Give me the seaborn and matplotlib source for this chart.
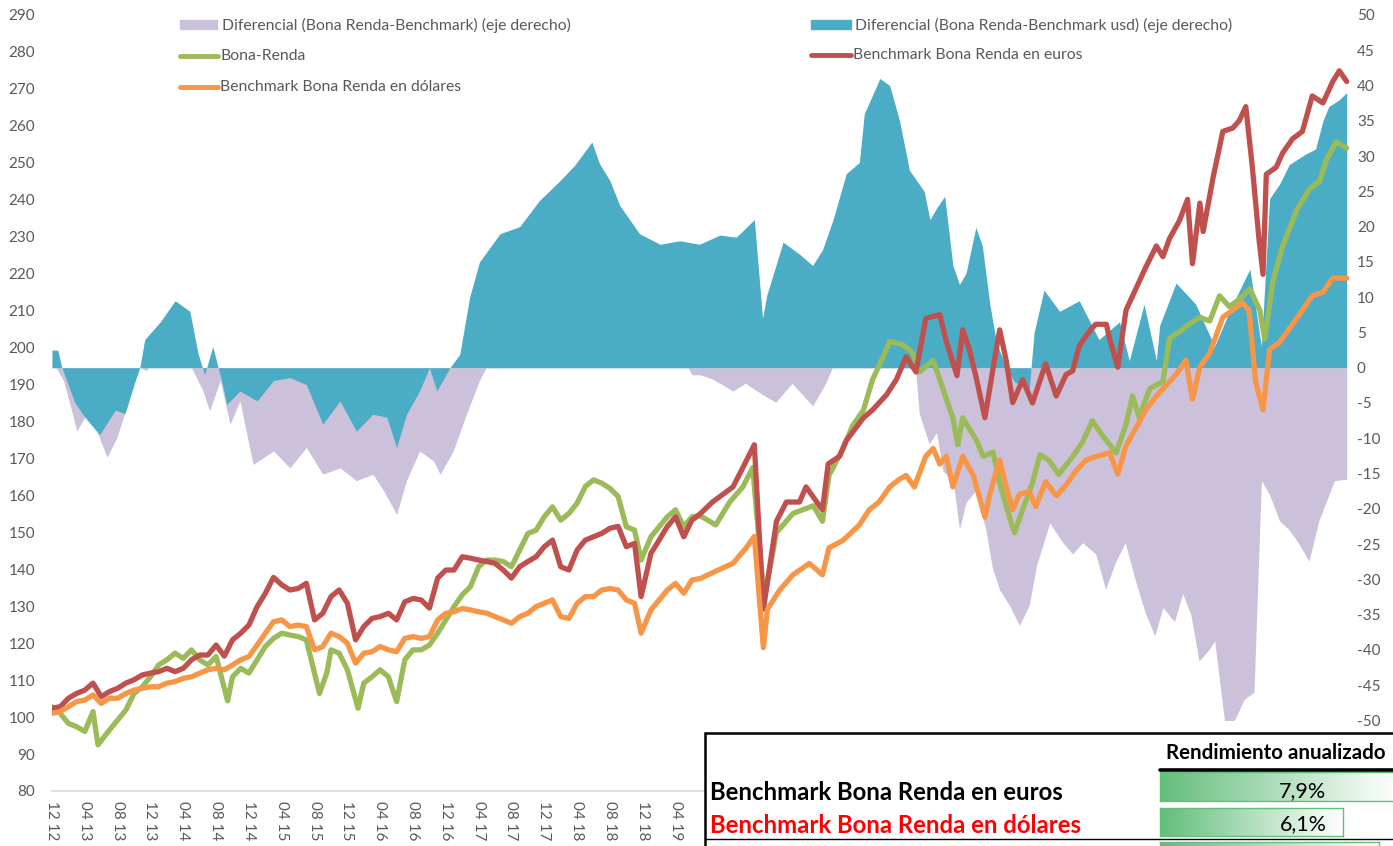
import numpy as np
import pandas as pd
import matplotlib
matplotlib.use("Agg")
import matplotlib.pyplot as plt
import seaborn as sns
from matplotlib.patches import Rectangle
from matplotlib.lines import Line2D

# ---------------- DATA (month index 0 = dic-2012) ----------------
meses_bona = [0, 1, 2, 3, 4, 5, 5.6, 7, 8, 9, 10, 11, 12, 13, 14, 15, 16, 17, 18, 19, 20, 21.4, 22, 23, 24,
              25, 26, 27, 28, 29, 30, 31, 32, 32.6, 33.5, 34, 35, 36, 37.3, 38, 39, 40, 41, 42, 43, 44, 45, 46,
              47, 48, 49, 50, 51, 52, 53, 54, 55, 56, 57, 58, 59, 60, 61, 62, 63, 64, 65, 66, 67, 68, 69, 70,
              71, 71.8, 73, 74, 75, 76, 77, 78, 79, 80.9, 82.6, 84.2, 85.4, 86.8, 88.3, 90.3, 92.8, 93.9,
              94.7, 96.4, 97.6, 98.9, 100.0, 101.3, 102.1, 103.7, 104.9, 105.7, 107.4, 108.2, 109.8, 110.4,
              111.0, 112.7, 113.5, 114.7, 115.5, 116.7, 117.3, 118.3, 119.5, 120.4, 121.5, 122.7, 124.4,
              125.6, 126.8, 128.0, 129.7, 130.9, 131.7, 132.5, 133.8, 135.4, 136.2, 137.4, 138.6, 139.9,
              141.1, 142.3, 143.5, 144.7, 146.0, 147.2, 147.8, 148.8, 150.0, 151.7, 153.3, 154.5, 155.3,
              156.5, 157.8]
bona_renda = [102.8, 101.0, 98.3, 97.4, 96.1, 101.5, 92.5, 96.5, 99.2, 101.9, 106.4, 108.2, 110.9, 114.1,
              115.5, 117.3, 115.9, 118.2, 115.5, 114.1, 116.4, 104.4, 110.9, 113.2, 111.9, 115.5, 119.1,
              121.3, 122.7, 122.2, 121.8, 120.9, 111.9, 106.4, 112.0, 118.2, 117.3, 112.8, 102.4, 109.2,
              110.9, 112.8, 110.9, 104.2, 115.5, 118.2, 118.2, 119.5, 122.7, 126.3, 129.9, 133.1, 135.3,
              140.7, 142.5, 142.5, 142.1, 140.7, 145.2, 149.7, 150.6, 154.2, 156.9, 153.3, 155.1, 157.9,
              162.4, 164.2, 163.3, 161.9, 159.7, 151.5, 150.6, 142.5, 148.8, 151.5, 154.2, 156.1, 151.5,
              154.2, 154.5, 152.0, 158.2, 162.3, 167.5, 132.0, 149.9, 155.1, 157.2, 153.0, 165.4, 172.7,
              178.9, 183.1, 191.3, 197.5, 201.7, 200.7, 198.6, 193.4, 196.5, 191.3, 181.0, 173.7, 181.0,
              174.8, 170.6, 171.7, 163.4, 154.1, 149.9, 156.1, 163.4, 171.0, 169.5, 165.7, 170.5, 174.4,
              180.2, 176.3, 171.5, 179.2, 186.9, 181.1, 188.9, 190.8, 202.4, 204.3, 206.3, 208.2, 207.2,
              214.0, 211.1, 213.0, 215.9, 210.1, 202.4, 217.9, 227.5, 237.2, 243.0, 245.0, 250.7, 255.6,
              254.0]

meses_eur = [0, 1, 2, 3, 4, 5, 6, 7, 8, 9, 10, 11, 12, 13, 14, 15, 16, 17, 18, 19, 20, 21, 22, 23, 24, 25,
             26, 27, 28, 29, 30, 31, 32, 33, 34, 35, 36, 37, 38, 39, 40, 41, 42, 43, 44, 45, 46, 47, 48, 49,
             50, 51, 52, 53, 54, 55, 56, 57, 58, 59, 60, 61, 62, 63, 64, 65, 66, 67, 68, 69, 70, 71, 71.8,
             73, 74, 75, 76, 77, 78, 79, 80.5, 83.0, 84.2, 85.6, 86.7, 88.3, 89.5, 91.1, 91.9, 93.9, 94.6,
             96.0, 96.8, 98.9, 100.0, 101.7, 102.9, 104.1, 105.3, 106.5, 108.2, 109.0, 110.3, 111.0, 111.8,
             112.7, 113.7, 114.7, 115.5, 116.3, 117.1, 118.3, 119.5, 121.1, 122.4, 123.6, 124.4, 125.2,
             126.4, 127.2, 128.5, 128.9, 129.9, 130.9, 132.1, 133.3, 134.6, 135.4, 136.2, 137.4, 138.4,
             139.0, 139.9, 140.3, 141.5, 142.7, 143.9, 144.7, 145.5, 146.3, 147.1, 147.6, 148.0, 149.2,
             150.0, 151.2, 152.4, 153.6, 154.9, 156.1, 156.9, 157.8]
bench_eur = [102.4, 102.8, 105.1, 106.4, 107.3, 109.2, 105.5, 106.9, 107.8, 109.2, 110.1, 111.4, 111.9,
             112.3, 113.2, 112.3, 113.2, 115.5, 116.8, 116.8, 119.5, 116.5, 120.9, 122.7, 124.9, 129.9,
             133.5, 137.8, 135.8, 134.4, 134.8, 136.2, 126.3, 128.1, 132.6, 134.4, 130.8, 120.9, 124.5,
             126.7, 127.2, 128.1, 126.3, 131.2, 132.1, 131.7, 129.5, 137.6, 139.8, 139.8, 143.4, 143.0,
             142.5, 142.1, 141.6, 139.8, 137.6, 140.7, 142.1, 143.4, 146.1, 147.9, 140.7, 139.8, 145.2,
             147.9, 148.8, 149.7, 151.1, 151.6, 146.1, 147.0, 132.6, 144.3, 147.9, 151.6, 154.2, 148.8,
             153.3, 155.0, 158.2, 162.3, 167.5, 173.7, 129.2, 153.0, 158.2, 158.2, 162.3, 156.1, 168.5,
             170.6, 174.8, 181.0, 183.1, 187.2, 191.3, 197.5, 193.4, 207.9, 208.9, 201.7, 192.4, 204.8,
             199.6, 191.3, 181.0, 194.4, 204.8, 196.5, 185.1, 191.3, 185.0, 195.6, 186.9, 192.7, 193.7,
             200.5, 204.3, 206.3, 206.3, 202.4, 194.7, 210.1, 215.9, 221.7, 227.5, 224.6, 229.5, 234.3,
             240.1, 222.7, 239.1, 231.4, 245.9, 258.5, 259.4, 261.4, 265.2, 248.8, 229.5, 219.8, 246.9,
             248.8, 252.7, 256.5, 258.5, 268.1, 266.2, 272.0, 274.9, 272.0]

meses_usd = [0, 1, 2, 3, 4, 5, 6, 7, 8, 9, 10, 11, 12, 13, 14, 15, 16, 17, 18, 19, 20, 21, 22, 23, 24, 25,
             26, 27, 28, 29, 30, 31, 32, 33, 34, 35, 36, 37, 38, 39, 40, 41, 42, 43, 44, 45, 46, 47, 48, 49,
             50, 51, 52, 53, 54, 55, 56, 57, 58, 59, 60, 61, 62, 63, 64, 65, 66, 67, 68, 69, 70, 71, 71.8,
             73, 74, 75, 76, 77, 78, 79, 80.9, 83.0, 84.6, 85.6, 86.7, 87.2, 88.7, 90.3, 92.3, 93.9, 94.7,
             96.4, 98.4, 99.6, 100.8, 102.1, 103.3, 104.1, 105.1, 106.5, 107.4, 108.2, 109.0, 109.8, 111.0,
             112.3, 113.7, 114.3, 115.5, 116.3, 117.1, 117.9, 119.1, 119.9, 121.1, 122.4, 123.6, 124.8,
             126.0, 127.2, 128.9, 129.9, 130.9, 132.1, 133.3, 134.6, 135.8, 137.0, 138.2, 139.0, 139.9,
             141.1, 142.7, 143.9, 145.1, 145.9, 146.7, 147.6, 148.4, 149.6, 151.2, 152.4, 153.6, 154.9,
             156.1, 157.8]
bench_usd = [101.0, 101.5, 102.8, 104.2, 104.6, 106.0, 103.7, 105.1, 105.1, 106.4, 107.3, 107.8, 108.2,
             108.2, 109.2, 109.6, 110.5, 110.9, 111.9, 112.8, 113.2, 112.8, 114.1, 115.5, 116.4, 119.5,
             122.7, 125.8, 126.3, 124.5, 124.9, 124.5, 118.2, 119.1, 122.7, 121.8, 120.0, 114.6, 117.3,
             117.7, 119.1, 118.2, 117.7, 121.3, 121.8, 121.3, 121.8, 126.3, 128.1, 128.5, 129.4, 129.0,
             128.5, 128.1, 127.2, 126.3, 125.4, 127.2, 128.1, 129.9, 130.8, 131.7, 127.2, 126.7, 130.8,
             132.6, 132.6, 134.4, 134.8, 134.4, 131.7, 130.8, 122.7, 129.0, 131.7, 134.4, 136.2, 133.5,
             137.1, 137.5, 139.5, 141.6, 145.8, 148.9, 118.8, 129.2, 134.4, 138.5, 141.6, 138.5, 145.8,
             147.8, 152.0, 156.1, 158.2, 162.3, 164.4, 165.4, 162.3, 170.6, 172.7, 168.5, 170.6, 162.3,
             170.6, 165.4, 154.1, 160.3, 169.6, 162.3, 156.1, 160.3, 161.0, 157.0, 163.7, 159.9, 162.8,
             166.6, 169.5, 170.5, 171.5, 165.7, 173.4, 178.2, 183.1, 186.9, 189.8, 192.7, 196.6, 186.0,
             194.7, 198.5, 208.2, 210.1, 212.1, 210.1, 190.8, 183.1, 199.5, 201.4, 206.3, 210.1, 214.0,
             215.0, 218.8, 218.8]

meses_dif_eur = [0.0, 1.4, 2.6, 3.0, 4.2, 5.0, 6.7, 7.9, 9.1, 9.9, 10.7, 11.5, 12.5, 15.0, 17.0, 18.4, 19.2,
                 20.5, 21.7, 22.9, 24.5, 27.0, 29.0, 31.0, 33.0, 35.1, 37.1, 39.1, 40.4, 42.0, 43.2, 44.8,
                 46.5, 47.3, 48.9, 50.5, 52.1, 52.9, 55, 58, 61, 63, 66, 69, 72, 75, 77, 78, 79, 80.5, 83.0,
                 84.5, 86.6, 88.2, 90.2, 92.7, 94.3, 95.1, 97, 100, 102, 104, 105.3, 105.7, 106.9, 107.8,
                 108.6, 109.8, 110.6, 111.4, 112.6, 113.8, 114.6, 115.5, 116.7, 117.9, 119.1, 120.0, 121.6,
                 123.2, 124.4, 125.6, 127.2, 128.4, 129.6, 130.8, 132.0, 133.2, 134.4, 135.4, 136.8, 137.8,
                 138.8, 139.8, 141.0, 141.7, 142.9, 144.1, 145.3, 146.5, 147.4, 148.4, 149.6, 150.8, 152.0,
                 153.2, 154.4, 156.3, 157.8]
dif_eur = [1.0, -1.8, -7.0, -9.0, -6.6, -7.5, -12.7, -9.9, -5.6, -0.9, 0, -0.4, 1, 2, 0, -3.3, -6.1, -1.8,
           -8.0, -4.7, -13.7, -11.8, -14.2, -11.3, -15.1, -14.2, -16.0, -15.1, -17.4, -20.8, -16.0, -11.8,
           -13.2, -15.1, -11.8, -6.6, -1.8, 0, 3, 6, 9, 13, 15, 7, 8, 2, 1, -1, -1, -1.6, -3.3, -2.2, -3.8,
           -4.9, -2.2, -5.4, -2.2, 0, 2, 7, 6, 2, -1, -6.5, -10.8, -9.2, -14.7, -15.8, -22.9, -19.1, -17.4,
           -22.9, -28.3, -31.5, -33.7, -36.5, -33.7, -28, -22, -24.8, -26.4, -24.8, -26.4, -31.4, -27.6,
           -24.8, -30.0, -34.6, -38, -34, -36, -32, -35, -41.6, -40, -38.7, -50, -50, -47, -46, -16, -18,
           -21.7, -23, -25, -27.4, -21.7, -16, -15.8]

meses_dif_usd = [0.0, 0.7, 1.2, 2.8, 4.0, 5.8, 7.7, 8.9, 10.1, 10.7, 11.3, 13.2, 15.0, 16.8, 17.8, 18.6,
                 19.6, 20.7, 21.3, 22.9, 25.0, 27.0, 29.0, 31.0, 33.0, 35.1, 37.1, 39.1, 40.8, 42.0, 43.2,
                 44.8, 46.0, 46.9, 48.5, 49.7, 50.9, 52.1, 54.6, 57.0, 59.4, 61.9, 63.7, 65.8, 66.7, 68.0,
                 69.2, 71.6, 74.1, 76.5, 78.9, 81.4, 83.4, 85.6, 86.6, 87.1, 89.1, 91.1, 92.7, 93.9, 95.2,
                 96.8, 98.4, 99.0, 100.9, 102.1, 103.3, 104.5, 106.3, 107.0, 107.8, 108.8, 109.8, 110.6,
                 111.4, 112.6, 113.4, 114.3, 115.1, 116.3, 117.3, 119.1, 119.7, 120.9, 122.8, 125.2, 127.6,
                 130.1, 131.3, 133.1, 134.6, 135.0, 137.0, 139.4, 141.7, 143.5, 146.0, 147.4, 148.4, 149.6,
                 150.8, 152.8, 154.0, 154.9, 155.6, 156.9, 157.8]
dif_usd = [2.5, 2.5, 0, -5, -7, -9.5, -6, -6.5, -2, 0, 4, 6.5, 9.5, 8, 2, -1, 3, -2, -5.2, -3.3, -4.7, -1.8,
           -1.4, -2.4, -8.0, -4.7, -9.0, -6.6, -7.0, -11.3, -6.6, -3.3, 0, -3.3, 0, 1.9, 10, 15, 19, 20, 23.7,
           26.5, 28.7, 32, 29, 26.5, 23, 19, 17.5, 18, 17.5, 18.8, 18.5, 21, 7, 10.2, 17.8, 16.1, 14.5, 16.7,
           21.0, 27.5, 29.1, 36, 41, 40, 35, 28, 25, 21, 22.6, 24.3, 14.5, 11.8, 13.4, 19.9, 17.2, 9.0, 3.6,
           0, -2, -3, 5, 11, 8, 9.5, 4, 6.5, 1, 9, 1, 6, 12, 9, 3, 8, 14, 3, 24, 26, 28.8, 30.3, 31, 35, 37,
           38, 39]

# x ticks every 4 months; labels beyond "04 19" are hidden behind the table in the original
tick_meses = list(range(0, 157, 4))
tick_labels = ["12 12", "04 13", "08 13", "12 13", "04 14", "08 14", "12 14", "04 15", "08 15", "12 15",
               "04 16", "08 16", "12 16", "04 17", "08 17", "12 17", "04 18", "08 18", "12 18", "04 19"]

tabla_titulo = "Rendimiento anualizado"
tabla_filas = ["Benchmark Bona Renda en euros", "Benchmark Bona Renda en dólares"]
tabla_rend = [7.9, 6.1, 7.3]
tabla_texto = ["7,9%", "6,1%"]

# ---------------- STYLE ----------------
sns.set_theme(style="white")
plt.rcParams['font.family'] = ['Lato', 'DejaVu Sans']
plt.rcParams['axes.unicode_minus'] = False

W, H = 1393, 846
GREY_TXT = "#595959"
C_GREEN, C_RED, C_ORANGE = "#9BBB59", "#C0504D", "#F79646"
C_BLUE, C_LAV = "#4BACC6", "#CCC1DA"

fig = plt.figure(figsize=(W / 100, H / 100), dpi=100)


def fx(x):
    return x / W


def fy(y):
    return 1 - y / H


axL = fig.add_axes([fx(52), fy(791), (1350 - 52) / W, (791 - 15) / H])
axR = axL.twinx()
axL.set_zorder(axR.get_zorder() + 1)
axL.patch.set_visible(False)

# areas (secondary axis)
axR.fill_between(meses_dif_eur, dif_eur, 0, color=C_LAV, lw=0)
axR.fill_between(meses_dif_usd, dif_usd, 0, color=C_BLUE, lw=0)
axR.set_ylim(-60, 50)
axR.set_yticks(range(-50, 51, 5))
axR.tick_params(axis='y', length=0, pad=5, labelsize=11, labelcolor=GREY_TXT)

# lines (primary axis)
df = pd.concat([
    pd.DataFrame({"m": meses_bona, "v": bona_renda, "serie": "Bona-Renda"}),
    pd.DataFrame({"m": meses_eur, "v": bench_eur, "serie": "Benchmark Bona Renda en euros"}),
    pd.DataFrame({"m": meses_usd, "v": bench_usd, "serie": "Benchmark Bona Renda en dólares"}),
])
sns.lineplot(data=df, x="m", y="v", hue="serie", estimator=None, sort=False,
             palette={"Bona-Renda": C_GREEN, "Benchmark Bona Renda en euros": C_RED,
                      "Benchmark Bona Renda en dólares": C_ORANGE},
             linewidth=3.8, legend=False, ax=axL)
axL.set_ylim(80, 290)
axL.set_yticks(range(80, 291, 10))
axL.set_xlim(0, 158.2)
axL.set_xticks(tick_meses)
axL.set_xticklabels(tick_labels + [""] * (len(tick_meses) - len(tick_labels)),
                    rotation=-90, va='top', ha='center')
axL.set_xlabel("")
axL.set_ylabel("")
axL.tick_params(axis='y', length=0, pad=12, labelsize=11, labelcolor=GREY_TXT)
axL.tick_params(axis='x', length=5, width=1, color="#D9D9D9", direction='out', pad=2,
                labelsize=11, labelcolor=GREY_TXT)
for ax in (axL, axR):
    for s in ax.spines.values():
        s.set_visible(False)
axL.spines['bottom'].set_visible(True)
axL.spines['bottom'].set_color("#D9D9D9")
axL.spines['bottom'].set_linewidth(1.2)

# ---------------- LEGEND (manual, as in the original) ----------------
leg_fs = 11.3
fig.add_artist(Rectangle((fx(180), fy(29)), 37 / W, 9 / H, color=C_LAV, transform=fig.transFigure))
fig.text(fx(222), fy(25), "Diferencial (Bona Renda-Benchmark) (eje derecho)", fontsize=leg_fs,
         color=GREY_TXT, va='center', ha='left')
fig.add_artist(Line2D([fx(180), fx(218)], [fy(56), fy(56)], color=C_GREEN, lw=3.5, transform=fig.transFigure))
fig.text(fx(220), fy(56), "Bona-Renda", fontsize=leg_fs, color=GREY_TXT, va='center', ha='left')
fig.add_artist(Line2D([fx(180), fx(218)], [fy(87), fy(87)], color=C_ORANGE, lw=3.5, transform=fig.transFigure))
fig.text(fx(220), fy(87), "Benchmark Bona Renda en dólares", fontsize=leg_fs, color=GREY_TXT,
         va='center', ha='left')
fig.add_artist(Rectangle((fx(811), fy(29)), 40 / W, 9 / H, color=C_BLUE, transform=fig.transFigure))
fig.text(fx(855), fy(25), "Diferencial (Bona Renda-Benchmark usd) (eje derecho)", fontsize=leg_fs,
         color=GREY_TXT, va='center', ha='left')
fig.add_artist(Line2D([fx(811), fx(851)], [fy(55), fy(55)], color=C_RED, lw=3.5, transform=fig.transFigure))
fig.text(fx(853), fy(55), "Benchmark Bona Renda en euros", fontsize=leg_fs, color=GREY_TXT,
         va='center', ha='left')

# ---------------- TABLE (overlay, bottom right) ----------------
fig.add_artist(Rectangle((fx(705), fy(860)), (720) / W, (860 - 733) / H, facecolor="white",
                         edgecolor="black", lw=1.8, transform=fig.transFigure, zorder=10))
fig.text(fx(1166), fy(753), tabla_titulo, fontsize=14.8, fontweight='bold', color="black",
         va='center', ha='left', zorder=12)
fig.add_artist(Line2D([fx(1160), fx(1400)], [fy(770), fy(770)], color="black", lw=2.6,
                      transform=fig.transFigure, zorder=12))
fig.add_artist(Line2D([fx(705), fx(1400)], [fy(839), fy(839)], color="black", lw=1.0,
                      transform=fig.transFigure, zorder=12))

grad = np.linspace(0, 1, 256)
g0 = np.array([99, 190, 123]) / 255.0
cmap_arr = (g0[None, :] * (1 - grad[:, None]) + np.ones(3)[None, :] * grad[:, None])[None, :, :]
px_per_pct = 30.0
bar_rows = [(772, 801), (808, 836), (842, 870)]
for i, val in enumerate(tabla_rend):
    y0, y1 = bar_rows[i]
    length = val * px_per_pct
    bax = fig.add_axes([fx(1160), fy(y1), length / W, (y1 - y0) / H], zorder=11)
    bax.imshow(cmap_arr, aspect='auto', extent=(0, 1, 0, 1))
    bax.set_xlim(0, 1)
    bax.set_ylim(0, 1)
    bax.set_xticks([])
    bax.set_yticks([])
    for s in bax.spines.values():
        s.set_color("#63BE7B")
        s.set_linewidth(1.0)

row_y = [792, 825]
row_col = ["black", "#FF0000"]
for i, name in enumerate(tabla_filas):
    fig.text(fx(710), fy(row_y[i]), name, fontsize=17.2, fontweight='bold', color=row_col[i],
             va='center', ha='left', zorder=12)
    fig.text(fx(1303), fy(row_y[i] - 1), tabla_texto[i], fontsize=15.5, color="black",
             va='center', ha='center', zorder=13)

fig.savefig("out.png", dpi=100)
